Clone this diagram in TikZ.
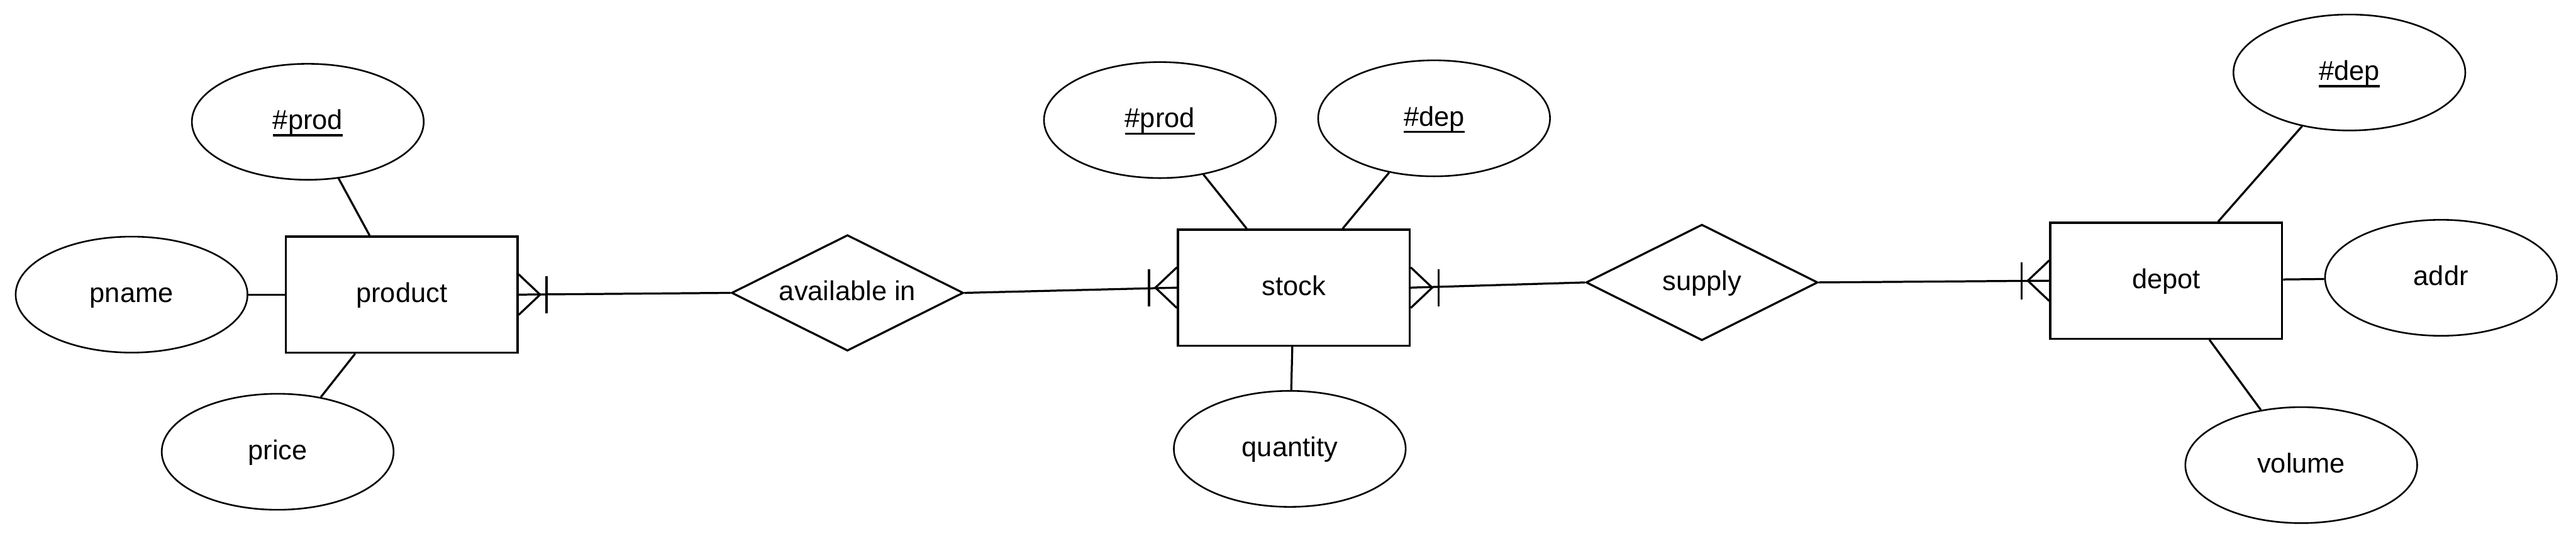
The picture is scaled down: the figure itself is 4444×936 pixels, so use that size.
\documentclass[tikz,border=0pt]{standalone}
\usepackage{fontspec}
\setmainfont{Liberation Sans}
\usetikzlibrary{shapes.geometric}
\newcommand\myul[1]{\sbox0{#1}\rlap{\rule[-0.26em]{\wd0}{0.085em}}\usebox0}
\begin{document}
\begin{tikzpicture}[x=0.1mm,y=-0.1mm, line width=1pt,
 every node/.style={font=\fontsize{13.4}{16}\selectfont, text height=10.3pt, text depth=2.8pt},
 entity/.style={draw, rectangle, minimum width=40mm, minimum height=20mm, inner sep=0pt},
 attr/.style={draw, ellipse, minimum width=40mm, minimum height=20mm, inner sep=0pt, line width=0.8pt},
 rel/.style={draw, diamond, aspect=2, minimum width=40mm, minimum height=20mm, inner sep=0pt},
 pics/onemany/.style={code={\draw (0,35)--(37,0)--(0,-35); \draw (48,32)--(48,-32);}}
]
\useasboundingbox (0,0) rectangle (4444,936);
% entities
\node[entity] (product) at (693,508) {product};
\node[entity] (stock) at (2232,496) {stock};
\node[entity] (depot) at (3737,484) {depot};
% relationships
\node[rel] (avail) at (1462,505) {available in};
\node[rel] (supply) at (2936,487) {supply};
% attributes
\node[attr] (prod1) at (531,210) {\myul{\#prod}};
\node[attr] (pname) at (227,508) {pname};
\node[attr] (price) at (479,779) {price};
\node[attr] (prod2) at (2001,207) {\myul{\#prod}};
\node[attr] (dep2) at (2474,204) {\myul{\#dep}};
\node[attr] (quantity) at (2225,774) {quantity};
\node[attr] (dep3) at (4053,125) {\myul{\#dep}};
\node[attr] (addr) at (4211,479) {addr};
\node[attr] (volume) at (3970,802) {volume};
% attribute links
\draw (prod1) -- (product);
\draw (pname) -- (product);
\draw (price) -- (product);
\draw (prod2) -- (stock);
\draw (dep2) -- (stock);
\draw (quantity) -- (stock);
\draw (dep3) -- (depot);
\draw (addr) -- (depot);
\draw (volume) -- (depot);
% relationship links
\draw (product.east) -- (avail.west);
\draw (avail.east) -- (stock.west);
\draw (stock.east) -- (supply.west);
\draw (supply.east) -- (depot.west);
% cardinalities
\pic at (product.east) {onemany};
\pic[rotate=180] at (stock.west) {onemany};
\pic at (stock.east) {onemany};
\pic[rotate=180] at (depot.west) {onemany};
\end{tikzpicture}
\end{document}
